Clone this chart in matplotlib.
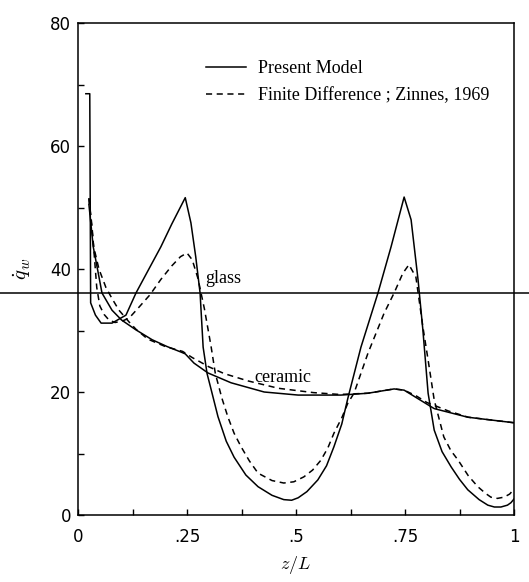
import matplotlib
matplotlib.use("Agg")
import matplotlib.pyplot as plt
from matplotlib.lines import Line2D

plt.rcParams["mathtext.fontset"] = "cm"

# ---- data ----
glass_model_x = [0.018, 0.027, 0.029, 0.040, 0.053, 0.078, 0.110, 0.133, 0.155, 0.174, 0.190, 0.215, 0.246,
                 0.259, 0.270, 0.280, 0.287, 0.296, 0.305, 0.321, 0.340, 0.358, 0.385, 0.413, 0.445, 0.472,
                 0.490, 0.505, 0.525, 0.550, 0.570, 0.587, 0.605, 0.619, 0.649, 0.688, 0.718, 0.748,
                 0.764, 0.780, 0.791, 0.803, 0.817, 0.835, 0.856, 0.875, 0.894, 0.920, 0.940, 0.955,
                 0.970, 0.985, 0.993, 1.000]
glass_model_y = [68.5, 68.5, 34.5, 32.5, 31.2, 31.2, 32.5, 36.1, 39.0, 41.5, 43.6, 47.3, 51.6,
                 47.5, 42.0, 36.1, 27.3, 23.0, 20.5, 16.0, 12.0, 9.4, 6.5, 4.6, 3.2, 2.5,
                 2.4, 2.8, 3.8, 5.7, 8.0, 11.1, 14.8, 19.0, 27.3, 36.1, 43.6, 51.7,
                 48.0, 38.2, 30.1, 19.8, 13.8, 10.3, 7.8, 5.8, 4.1, 2.5, 1.6, 1.3,
                 1.3, 1.6, 2.0, 2.6]

glass_fd_x = [0.025, 0.032, 0.037, 0.043, 0.050, 0.060, 0.071, 0.085, 0.100, 0.117, 0.140, 0.165,
              0.190, 0.215, 0.235, 0.250, 0.262, 0.275, 0.290, 0.305, 0.315, 0.330, 0.344, 0.358,
              0.374, 0.393, 0.413, 0.445, 0.472, 0.495, 0.518, 0.538, 0.557, 0.573, 0.587, 0.605,
              0.619, 0.633, 0.665, 0.702, 0.725, 0.745, 0.759, 0.775, 0.791, 0.803, 0.817, 0.839,
              0.855, 0.872, 0.895, 0.917, 0.935, 0.947, 0.962, 0.977, 0.990, 1.000]
glass_fd_y = [51.5, 47.0, 42.5, 37.0, 34.0, 32.6, 31.7, 31.3, 31.5, 32.0, 33.8, 35.8,
              38.3, 40.5, 42.0, 42.6, 41.5, 38.5, 33.5, 27.5, 23.0, 19.0, 15.9, 13.3,
              11.1, 8.8, 6.8, 5.6, 5.2, 5.4, 6.2, 7.3, 8.9, 10.9, 13.3, 15.8,
              18.2, 19.8, 26.3, 32.8, 36.1, 39.3, 40.7, 38.7, 30.6, 25.2, 18.7, 12.7,
              10.5, 8.9, 6.4, 4.6, 3.5, 2.9, 2.7, 2.9, 3.4, 4.2]

ceramic_model_x = [0.025, 0.035, 0.046, 0.055, 0.078, 0.100, 0.133, 0.170, 0.204, 0.236, 0.246, 0.266,
                   0.298, 0.351, 0.427, 0.505, 0.603, 0.665, 0.725, 0.748, 0.787, 0.817, 0.894, 1.000]
ceramic_model_y = [50.5, 43.6, 39.5, 36.1, 33.3, 31.7, 30.1, 28.5, 27.4, 26.5, 26.2, 24.7,
                   23.1, 21.5, 20.0, 19.5, 19.5, 19.8, 20.5, 20.3, 18.6, 17.3, 15.9, 15.0]

ceramic_fd_x = [0.025, 0.036, 0.048, 0.064, 0.078, 0.094, 0.117, 0.133, 0.160, 0.200, 0.240, 0.262,
                0.280, 0.300, 0.335, 0.390, 0.460, 0.540, 0.600, 0.665, 0.725, 0.748, 0.775, 0.800,
                0.850, 0.895, 1.000]
ceramic_fd_y = [51.5, 43.6, 40.0, 37.0, 35.2, 33.3, 31.4, 30.2, 28.6, 27.4, 26.6, 25.6,
                24.9, 24.1, 23.0, 21.8, 20.6, 19.9, 19.6, 19.8, 20.5, 20.3, 19.4, 18.3,
                16.9, 15.9, 15.0]

x_major = [0, 0.25, 0.5, 0.75, 1.0]
x_major_labels = ["0", ".25", ".5", ".75", "1"]
x_minor = [0.125, 0.375, 0.625, 0.875]
y_major = [0, 20, 40, 60, 80]
y_minor = [10, 30, 50, 70]

legend_labels = ["Present Model", "Finite Difference ; Zinnes, 1969"]

# ---- figure ----
W, H = 529, 582
fig = plt.figure(figsize=(W / 100, H / 100), dpi=100)
left, right, bottom, top = 78, 514, 515, 23
ax = fig.add_axes([left / W, 1 - bottom / H, (right - left) / W, (bottom - top) / H])

lw = 1.1
dash = (4, 3)
ax.plot(glass_model_x, glass_model_y, color="black", lw=lw, label=legend_labels[0])
ax.plot(glass_fd_x, glass_fd_y, color="black", lw=lw, ls=(0, dash), label=legend_labels[1])
ax.plot(ceramic_model_x, ceramic_model_y, color="black", lw=lw)
ax.plot(ceramic_fd_x, ceramic_fd_y, color="black", lw=lw, ls=(0, dash))

ax.set_xlim(0, 1)
ax.set_ylim(0, 80)
ax.set_xticks(x_major)
ax.set_xticklabels(x_major_labels)
ax.set_xticks(x_minor, minor=True)
ax.set_yticks(y_major)
ax.set_yticks(y_minor, minor=True)
ax.tick_params(axis="both", which="both", direction="in", length=4.5, width=1.0,
               labelsize=12, top=False, right=False)
ax.tick_params(axis="x", which="major", pad=9)
ax.tick_params(axis="y", which="major", pad=5)
for s in ax.spines.values():
    s.set_linewidth(1.1)

ax.set_xlabel(r"$z/L$", fontsize=13, labelpad=6)
ax.set_ylabel(r"$\dot{q}_w$", fontsize=15, labelpad=12)

ax.text(0.291, 38.5, "glass", fontsize=13, family="Liberation Serif", va="center", ha="left")
ax.text(0.404, 22.3, "ceramic", fontsize=13, family="Liberation Serif", va="center", ha="left")

ax.legend(loc="upper left", bbox_to_anchor=(0.294, 0.925), frameon=False,
          prop={"family": "Liberation Serif", "size": 13}, handlelength=2.2,
          handletextpad=0.65, labelspacing=0.55, borderpad=0, borderaxespad=0)

# scan artefact: horizontal line running across the whole page
fig.add_artist(Line2D([0, 1], [1 - 293 / H, 1 - 293 / H], transform=fig.transFigure,
                      color="black", lw=1.1))

fig.savefig("out.png", dpi=100)
